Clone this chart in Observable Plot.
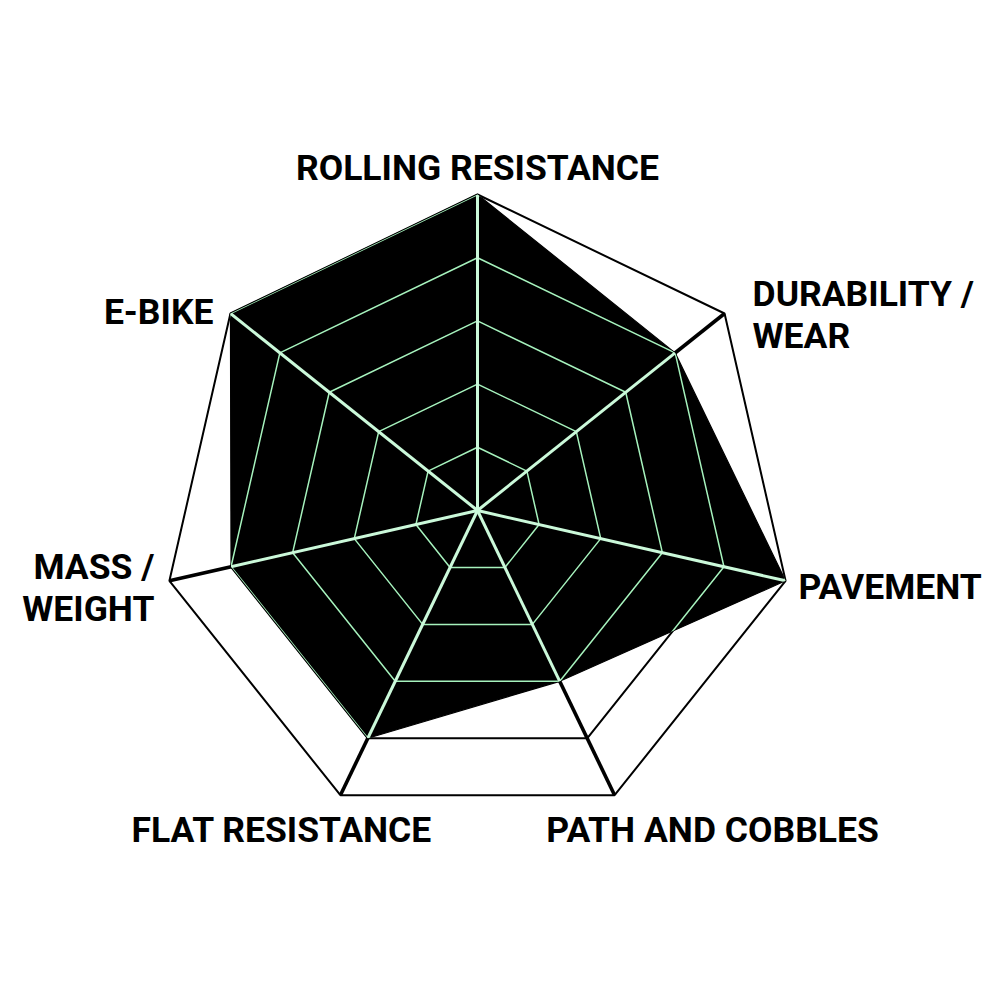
<!DOCTYPE html>
<html>
<head>
<meta charset="utf-8">
<script src="https://cdn.jsdelivr.net/npm/d3@7"></script>
<script src="https://cdn.jsdelivr.net/npm/@observablehq/plot@0.6"></script>
<style>
  html, body { margin: 0; padding: 0; background: #ffffff; }
  #chart svg { display: block; }
</style>
</head>
<body>
<div id="chart"></div>
<script>
// ---- data ----
const axes = ["ROLLING RESISTANCE", "DURABILITY /\nWEAR", "PAVEMENT", "PATH AND COBBLES", "FLAT RESISTANCE", "MASS /\nWEIGHT", "E-BIKE"];
const scores = [5, 4, 5, 3, 4, 4, 5];
const levels = [1, 2, 3, 4, 5];
const maxScore = 5;

// ---- geometry helpers (data -> unit coordinates; scales map to pixels) ----
const n = axes.length;
const angle = (i) => (i * 2 * Math.PI) / n;
const px = (i, v) => (v / maxScore) * Math.sin(angle(i));
const py = (i, v) => (v / maxScore) * Math.cos(angle(i));

const ringPts = levels.flatMap((lv) =>
  d3.range(n + 1).map((k) => ({level: lv, x: px(k % n, lv), y: py(k % n, lv)}))
);
const spokes = axes.map((a, i) => ({i, x1: 0, y1: 0, x2: px(i, maxScore), y2: py(i, maxScore)}));
const innerSpokes = axes.map((a, i) => ({i, x1: 0, y1: 0, x2: px(i, scores[i]), y2: py(i, scores[i])}));
const poly = d3.range(n + 1).map((k) => ({x: px(k % n, scores[k % n]), y: py(k % n, scores[k % n])}));
const labels = axes.map((a, i) => ({i, label: a, x: px(i, maxScore), y: py(i, maxScore)}));

const GREEN = "#a6f2bd";
const GREEN_SPOKE = "#cbf9da";
const FONT = "Roboto, 'Liberation Sans', sans-serif";

function labelMark(i, opts) {
  return Plot.text(labels.filter((d) => d.i === i), {
    x: "x", y: "y", text: "label",
    fontFamily: FONT, fontWeight: 700, fontSize: 35.5, fill: "#000",
    lineHeight: 1.19,
    ...opts
  });
}

const chart = Plot.plot({
  width: 1000,
  height: 1000,
  margin: 0,
  style: {background: "#ffffff", overflow: "visible"},
  x: {domain: [-477 / 316, 523 / 316], axis: null},
  y: {domain: [-490 / 316, 510 / 316], axis: null},
  marks: [
    // 0: black web rings (visible outside the data polygon)
    Plot.line(ringPts, {x: "x", y: "y", z: "level", stroke: "#000", strokeWidth: 2, strokeLinejoin: "miter"}),
    // 1: black spokes
    Plot.link(spokes, {x1: "x1", y1: "y1", x2: "x2", y2: "y2", stroke: "#000", strokeWidth: 3.6}),
    // 2: data polygon
    Plot.line(poly, {x: "x", y: "y", fill: "#000", stroke: "#000", strokeWidth: 1.2, strokeLinejoin: "miter"}),
    // 3: green web rings (inside the data polygon)
    Plot.line(ringPts, {x: "x", y: "y", z: "level", stroke: GREEN, strokeWidth: 1.5, strokeLinejoin: "miter"}),
    // 4: green spokes
    Plot.link(innerSpokes, {x1: "x1", y1: "y1", x2: "x2", y2: "y2", stroke: GREEN_SPOKE, strokeWidth: 3}),
    // labels
    labelMark(0, {textAnchor: "middle", dx: 0, dy: -28}),
    labelMark(1, {textAnchor: "start", dx: 28, dy: 0}),
    labelMark(2, {textAnchor: "start", dx: 13, dy: 5}),
    labelMark(3, {textAnchor: "middle", dx: 98, dy: 33}),
    labelMark(4, {textAnchor: "middle", dx: -59, dy: 33}),
    labelMark(5, {textAnchor: "end", dx: -15, dy: 6}),
    labelMark(6, {textAnchor: "end", dx: -17, dy: -3})
  ]
});

// clip the green web to the data polygon
(function () {
  const groups = Array.from(chart.children).filter((el) => el.tagName.toLowerCase() === "g");
  const polyPath = groups[2] && groups[2].querySelector("path");
  if (!polyPath) return;
  const ns = "http://www.w3.org/2000/svg";
  const defs = document.createElementNS(ns, "defs");
  const cp = document.createElementNS(ns, "clipPath");
  cp.setAttribute("id", "clip-data-polygon");
  const p = document.createElementNS(ns, "path");
  p.setAttribute("d", polyPath.getAttribute("d"));
  const t = groups[2].getAttribute("transform");
  if (t) p.setAttribute("transform", t);
  cp.appendChild(p);
  defs.appendChild(cp);
  chart.insertBefore(defs, chart.firstChild);
  [groups[3], groups[4]].forEach((g) => {
    const wrap = document.createElementNS(ns, "g");
    wrap.setAttribute("clip-path", "url(#clip-data-polygon)");
    g.parentNode.insertBefore(wrap, g);
    wrap.appendChild(g);
  });
})();

document.getElementById("chart").appendChild(chart);
</script>
</body>
</html>
